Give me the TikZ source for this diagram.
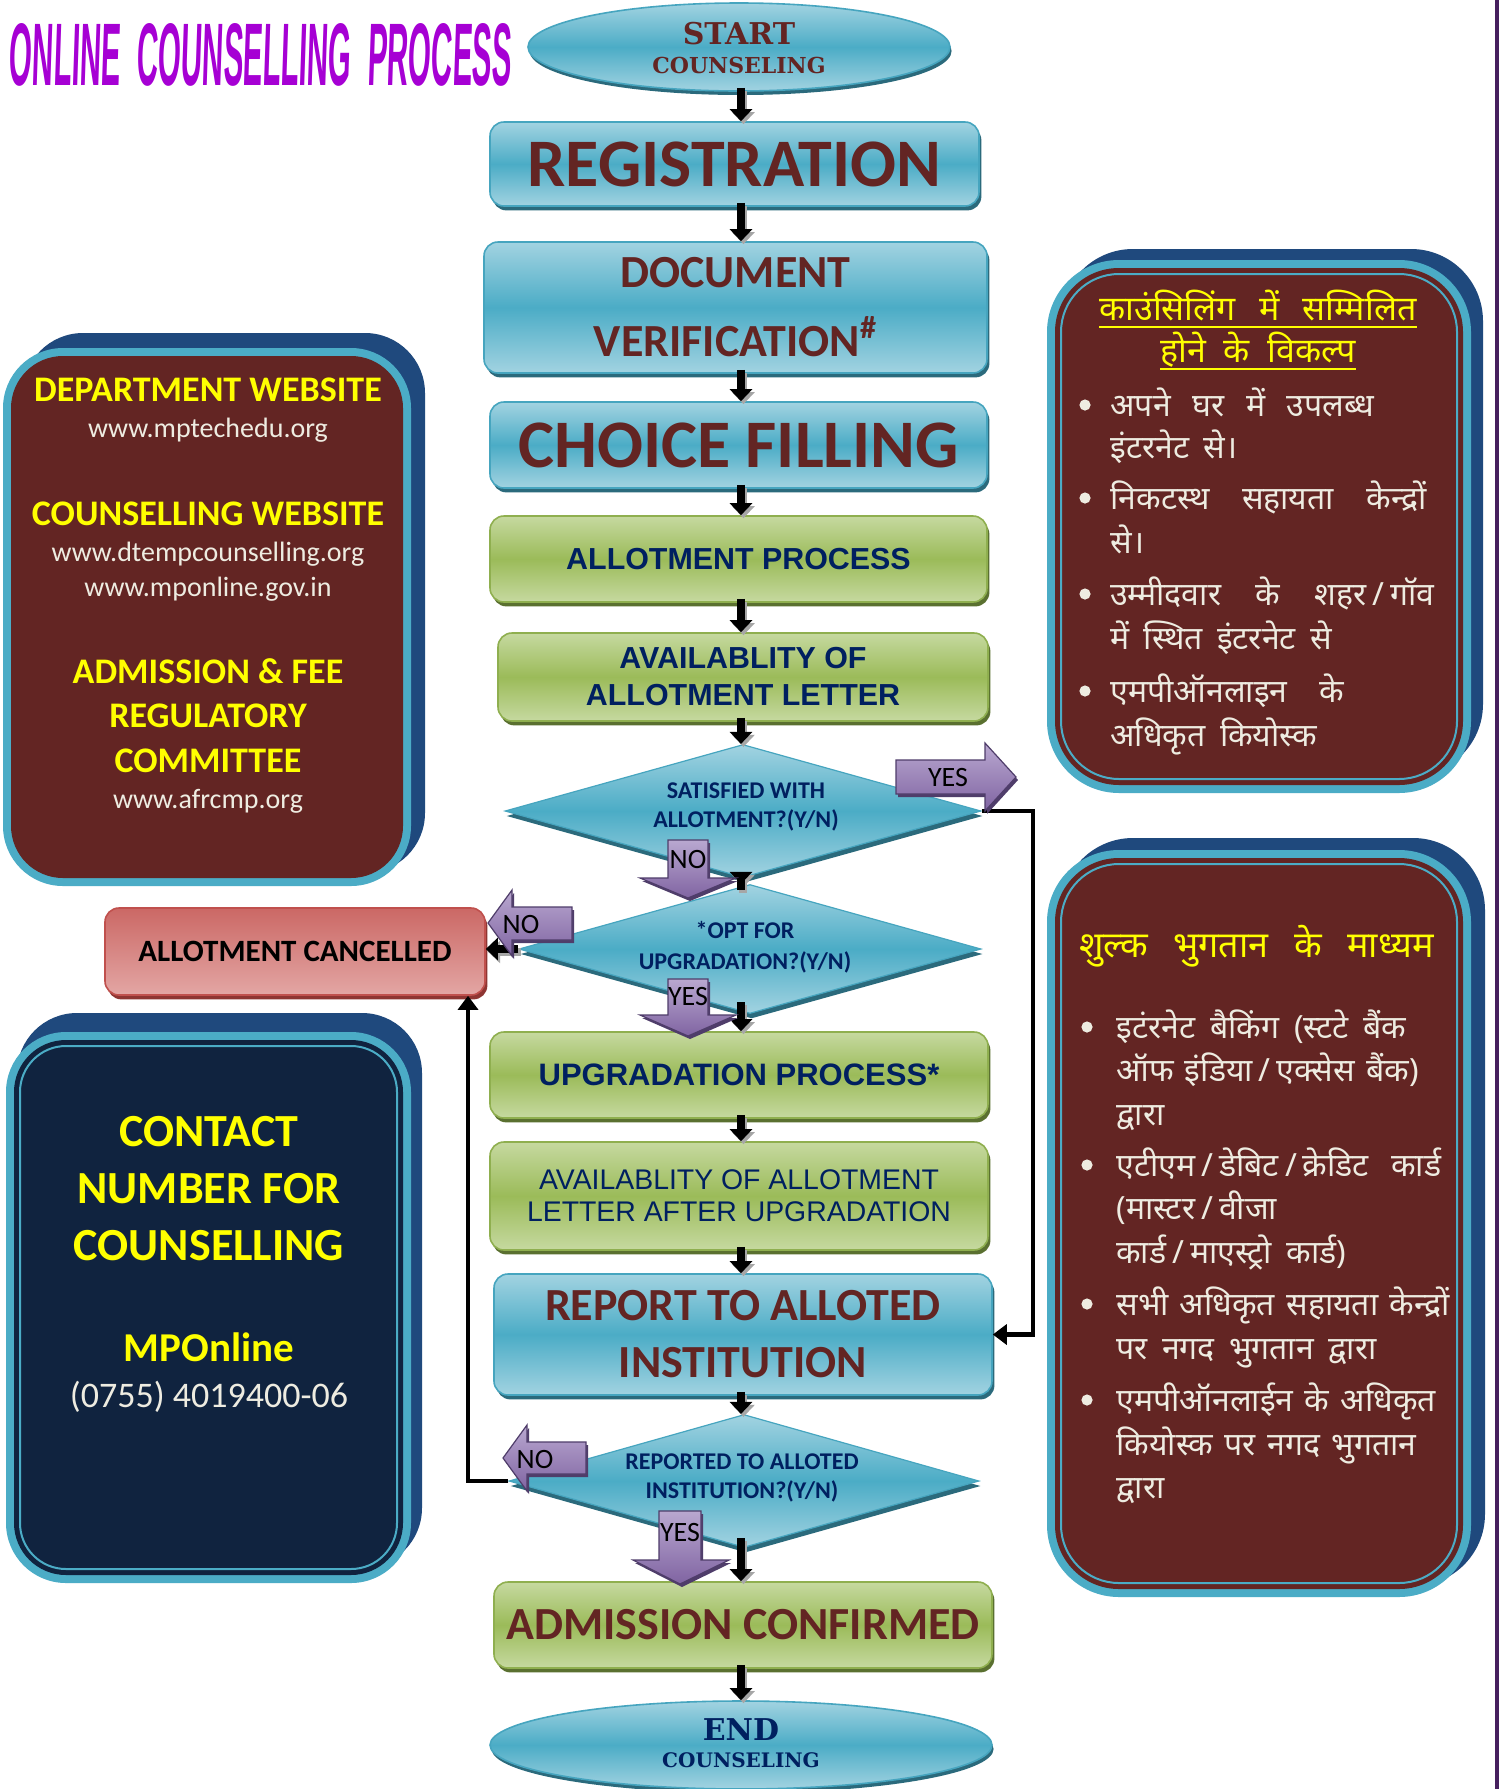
\documentclass[tikz,border=0pt]{standalone}
\usepackage{fontspec}
\setmainfont{Carlito}
\newfontfamily\arialf{Liberation Sans}
\newfontfamily\titlef[FakeSlant=0.1]{Liberation Sans}
\newfontfamily\serifbf{DejaVu Serif}
\newfontfamily\hindi[Script=Devanagari]{Noto Sans}
\usetikzlibrary{shapes.geometric,arrows.meta,shadows}
\definecolor{cMaroonT}{HTML}{632523}
\definecolor{cNavyT}{HTML}{002060}
\definecolor{cBlueL}{HTML}{A2D3E1}
\definecolor{cBlueM}{HTML}{4BACC6}
\definecolor{cBlueB}{HTML}{46A5BF}
\definecolor{cBlueS}{HTML}{2B6A7C}
\definecolor{cGreenL}{HTML}{C6D9A0}
\definecolor{cGreenM}{HTML}{9BBB59}
\definecolor{cGreenB}{HTML}{8FAF4F}
\definecolor{cGreenS}{HTML}{5A7030}
\definecolor{cRedT}{HTML}{CB6865}
\definecolor{cRedBt}{HTML}{E3A6A4}
\definecolor{cRedB}{HTML}{C0504D}
\definecolor{cRedS}{HTML}{8E3532}
\definecolor{cPurL}{HTML}{B9A8D0}
\definecolor{cPurM}{HTML}{8064A2}
\definecolor{cPurD}{HTML}{4F3D6A}
\definecolor{cPanelM}{HTML}{632523}
\definecolor{cPanelN}{HTML}{10233F}
\definecolor{cBack}{HTML}{1F497D}
\definecolor{cBand}{HTML}{4BACC6}
\definecolor{cYel}{HTML}{FFFF00}
\definecolor{cLight}{HTML}{EEECE1}
\definecolor{cMag}{HTML}{A600D4}
\definecolor{cEdge}{HTML}{46205E}
\newcommand\jl[2]{\makebox[#1][s]{#2}}
\newcommand\hsl{\hspace{3pt}/\hspace{3pt}}
\newcommand\hinfont{\hindi\fontsize{16pt}{16pt}\selectfont\spaceskip=0.45em plus 2em minus 0.1em\relax}
\tikzset{
  boxbase/.style={rectangle, rounded corners=7pt, line width=0.8pt, inner sep=0pt, align=center},
  bluebox/.style={boxbase, draw=cBlueB, top color=cBlueL, bottom color=cBlueL, middle color=cBlueM,
    drop shadow={shadow xshift=1.2pt, shadow yshift=-2.2pt, fill=cBlueS, opacity=1}},
  greenbox/.style={boxbase, draw=cGreenB, top color=cGreenL, bottom color=cGreenL, middle color=cGreenM,
    drop shadow={shadow xshift=1.2pt, shadow yshift=-2.2pt, fill=cGreenS, opacity=1}},
  redbox/.style={boxbase, draw=cRedB, top color=cRedT, bottom color=cRedBt,
    drop shadow={shadow xshift=1.2pt, shadow yshift=-2.2pt, fill=cRedS, opacity=1}},
  decision/.style={diamond, inner sep=0pt, draw=cBlueB, line width=0.6pt, top color=cBlueL, bottom color=cBlueL, middle color=cBlueM,
    drop shadow={shadow xshift=0.8pt, shadow yshift=-2.5pt, fill=cBlueS, opacity=1}},
  terminal/.style={ellipse, inner sep=0pt, draw=cBlueB, line width=0.8pt, top color=cBlueL, bottom color=cBlueL, middle color=cBlueM,
    drop shadow={shadow xshift=0.8pt, shadow yshift=-2pt, fill=cBlueS, opacity=1}},
  flow/.style={line width=4pt, draw=black, -{Triangle[width=11pt,length=6pt]}},
  flowsh/.style={line width=4pt, draw=gray!70, -{Triangle[width=11pt,length=6pt]}, transform canvas={shift={(1.2pt,-1.5pt)}}},
  conn/.style={line width=2.2pt, draw=black, -{Triangle[width=10pt,length=7pt]}},
  parrow/.style={draw=cPurD, line width=0.6pt, top color=cPurL, bottom color=cPurM,
    drop shadow={shadow xshift=1pt, shadow yshift=-1.5pt, fill=cPurD, opacity=1}},
  plabel/.style={inner sep=0pt, text=black, font=\fontsize{14pt}{14pt}\selectfont},
  dlabel/.style={inner sep=0pt, align=center, text=cNavyT, font=\bfseries\fontsize{12pt}{14.5pt}\selectfont},
  phead/.style={inner sep=0pt, anchor=base, text=cYel, font=\bfseries\fontsize{18pt}{18pt}\selectfont},
  purl/.style={inner sep=0pt, anchor=base, text=cLight, font=\fontsize{14pt}{14pt}\selectfont},
  chead/.style={inner sep=0pt, anchor=base, text=cYel, font=\bfseries\fontsize{23pt}{23pt}\selectfont},
  hin/.style={inner sep=0pt, anchor=base west, text=cLight, font=\hinfont},
  hintitle/.style={inner sep=0pt, anchor=base, text=cYel, font=\hindi\fontsize{17pt}{17pt}\selectfont},
}
\begin{document}
\begin{tikzpicture}[x=0.5pt,y=-0.5pt]
\useasboundingbox (0,0) rectangle (1500,1789);
\fill[white] (0,0) rectangle (1500,1789);

% ---------- left panel 1 (websites) ----------
\fill[cBack, rounded corners=30pt] (23,333) rectangle (425,873);
\fill[cBand, rounded corners=30pt] (3,348) rectangle (411,886);
\fill[cPanelM, rounded corners=26pt] (11,356) rectangle (403,878);
\node[phead] (dw) at (208,401) {DEPARTMENT WEBSITE};
\node[purl] (dwu) at (208,437) {www.mptechedu.org};
\node[phead] (cw) at (208,525) {COUNSELLING WEBSITE};
\node[purl] (cwu1) at (208,561) {www.dtempcounselling.org};
\node[purl] (cwu2) at (208,596) {www.mponline.gov.in};
\node[phead] (af1) at (208,683) {ADMISSION \& FEE};
\node[phead] (af2) at (208,727) {REGULATORY};
\node[phead] (af3) at (208,772) {COMMITTEE};
\node[purl] (afu) at (208,808) {www.afrcmp.org};

% ---------- left panel 2 (contact) ----------
\fill[cBack, rounded corners=30pt] (17,1013) rectangle (422,1568);
\fill[cBand, rounded corners=30pt] (6,1032) rectangle (411,1583);
\fill[cPanelN, rounded corners=26pt] (14,1040) rectangle (403,1575);
\draw[cBand, line width=1pt, rounded corners=23pt] (20,1046) rectangle (397,1569);
\node[chead] (ct1) at (209,1146) {CONTACT};
\node[chead] (ct2) at (209,1203) {NUMBER FOR};
\node[chead] (ct3) at (209,1260) {COUNSELLING};
\node[inner sep=0pt, anchor=base, text=cYel, font=\bfseries\fontsize{20.5pt}{20.5pt}\selectfont] (mpo) at (209,1361) {MPOnline};
\node[inner sep=0pt, anchor=base, text=cLight, font=\fontsize{18pt}{18pt}\selectfont] (ph) at (209,1407) {(0755) 4019400-06};

% ---------- right panel 1 ----------
\fill[cBack, rounded corners=36pt] (1061,249) rectangle (1483,776);
\fill[cBand, rounded corners=36pt] (1047,260) rectangle (1471,793);
\fill[cPanelM, rounded corners=32pt] (1055,268) rectangle (1463,785);
\draw[cBand, line width=1pt, rounded corners=29pt] (1061,274) rectangle (1457,779);
\node[hintitle] (r1t1) at (1258,320) {\jl{158.5pt}{काउंसिलिंग में सम्मिलित}};
\node[hintitle] (r1t2) at (1258,362) {\jl{97.5pt}{होने के विकल्प}};
\draw[cYel, line width=0.9pt] ([yshift=-3.5pt]r1t1.base west) -- ([yshift=-3.5pt]r1t1.base east);
\draw[cYel, line width=0.9pt] ([yshift=-3.5pt]r1t2.base west) -- ([yshift=-3.5pt]r1t2.base east);
\foreach \yy in {405,498,594,691} \fill[cLight] (1085,\yy) circle (2.8pt);
\node[hin] (r1a) at (1110,416) {\jl{131.8pt}{अपने घर में उपलब्ध}};
\node[hin] (r1b) at (1110,458) {इंटरनेट से।};
\node[hin] (r1c) at (1110,509) {\jl{158pt}{निकटस्थ सहायता केन्द्रों}};
\node[hin] (r1d) at (1110,553) {से।};
\node[hin] (r1e) at (1110,605) {\jl{162pt}{उम्मीदवार के शहर\hsl गॉव}};
\node[hin] (r1f) at (1110,649) {में स्थित इंटरनेट से};
\node[hin] (r1g) at (1110,702) {\jl{117pt}{एमपीऑनलाइन के}};
\node[hin] (r1h) at (1110,746) {अधिकृत कियोस्क};

% ---------- right panel 2 ----------
\fill[cBack, rounded corners=36pt] (1061,838) rectangle (1485,1586);
\fill[cBand, rounded corners=36pt] (1047,850) rectangle (1471,1597);
\fill[cPanelM, rounded corners=32pt] (1055,858) rectangle (1463,1589);
\draw[cBand, line width=1pt, rounded corners=29pt] (1061,864) rectangle (1457,1583);
\node[inner sep=0pt, anchor=base west, text=cYel, font=\hindi\bfseries\fontsize{18pt}{18pt}\selectfont] (r2t) at (1079,957) {\jl{177.4pt}{शुल्क भुगतान के माध्यम}};
\foreach \yy in {1027,1165,1304,1400} \fill[cLight] (1087,\yy) circle (2.8pt);
\node[hin] (r2a) at (1116,1038) {\jl{145pt}{इटंरनेट बैकिंग (स्टटे बैंक}};
\node[hin] (r2b) at (1116,1081) {\jl{151pt}{ऑफ इंडिया\hsl एक्सेस बैंक)}};
\node[hin] (r2c) at (1116,1125) {द्वारा};
\node[hin] (r2d) at (1116,1176) {\jl{162.5pt}{एटीएम\hsl डेबिट\hsl क्रेडिट कार्ड}};
\node[hin] (r2e) at (1116,1219) {(मास्टर\hsl वीजा};
\node[hin] (r2f) at (1116,1263) {कार्ड\hsl माएस्ट्रो कार्ड)};
\node[hin] (r2g) at (1116,1315) {\jl{160pt}{सभी अधिकृत सहायता केन्द्रों}};
\node[hin] (r2h) at (1116,1359) {पर नगद भुगतान द्वारा};
\node[hin] (r2i) at (1116,1411) {\jl{155pt}{एमपीऑनलाईन के अधिकृत}};
\node[hin] (r2j) at (1116,1455) {\jl{150pt}{कियोस्क पर नगद भुगतान}};
\node[hin] (r2k) at (1116,1498) {द्वारा};

% ---------- title ----------
\node[inner sep=0pt, text=cMag] (title) at (260,55) {\resizebox{251pt}{31pt}{\titlef\bfseries ONLINE\ \ COUNSELLING\ \ PROCESS}};

% ---------- flow nodes ----------
\node[terminal, minimum width=211pt, minimum height=44pt] (start) at (739,47) {};
\node[inner sep=0pt, text=cMaroonT, font=\serifbf\bfseries\fontsize{15pt}{15pt}\selectfont] (startA) at (739,34) {START};
\node[inner sep=0pt, text=cMaroonT, font=\serifbf\bfseries\fontsize{11pt}{11pt}\selectfont] (startB) at (739,65) {COUNSELING};

\node[bluebox, minimum width=244.5pt, minimum height=42pt, text=cMaroonT, font=\bfseries\fontsize{34pt}{34pt}\selectfont] (reg) at (734.5,164) {REGISTRATION};
\node[bluebox, minimum width=251.5pt, minimum height=65.5pt, text=cMaroonT, font=\bfseries\fontsize{23pt}{34.5pt}\selectfont] (doc) at (735.5,307.5) {DOCUMENT\\VERIFICATION\textsuperscript{\#}};
\node[bluebox, minimum width=248.5pt, minimum height=43pt, text=cMaroonT, font=\bfseries\fontsize{34pt}{34pt}\selectfont] (choice) at (738.5,445) {CHOICE FILLING};
\node[greenbox, minimum width=248.5pt, minimum height=43pt, text=cNavyT, font=\arialf\bfseries\fontsize{15.2pt}{18pt}\selectfont] (allot) at (738.5,559) {ALLOTMENT PROCESS};
\node[greenbox, minimum width=245pt, minimum height=44pt, text=cNavyT, font=\arialf\bfseries\fontsize{15.2pt}{18.5pt}\selectfont] (avail) at (743,677) {AVAILABLITY OF\\ALLOTMENT LETTER};

\node[decision, minimum width=238pt, minimum height=66.5pt] (d1) at (743,811) {};
\node[dlabel] (d1t) at (746,807) {SATISFIED WITH\\ALLOTMENT?(Y/N)};
\node[decision, minimum width=231pt, minimum height=64.5pt] (d2) at (750,949) {};
\node[dlabel, font=\bfseries\fontsize{12pt}{15.5pt}\selectfont] (d2t) at (745,947) {*OPT FOR\\UPGRADATION?(Y/N)};

\node[redbox, minimum width=190pt, minimum height=43.5pt, text=black, font=\bfseries\fontsize{15.5pt}{15.5pt}\selectfont] (cancel) at (295,951.5) {ALLOTMENT CANCELLED};

\node[greenbox, minimum width=249pt, minimum height=43pt, text=cNavyT, font=\arialf\bfseries\fontsize{15.5pt}{18pt}\selectfont] (upg) at (739,1075) {UPGRADATION PROCESS*};
\node[greenbox, minimum width=249pt, minimum height=54pt, text=cNavyT, font=\arialf\fontsize{14.2pt}{16pt}\selectfont] (avail2) at (739,1196) {AVAILABLITY OF ALLOTMENT\\LETTER AFTER UPGRADATION};
\node[bluebox, minimum width=249pt, minimum height=60.5pt, text=cMaroonT, font=\bfseries\fontsize{23pt}{28.5pt}\selectfont] (report) at (743,1334.5) {REPORT TO ALLOTED\\INSTITUTION};

\node[decision, minimum width=235pt, minimum height=66.5pt] (d3) at (744,1481) {};
\node[dlabel] (d3t) at (742,1478) {REPORTED TO ALLOTED\\INSTITUTION?(Y/N)};

\node[greenbox, minimum width=249pt, minimum height=43pt, text=cMaroonT, font=\bfseries\fontsize{23pt}{23pt}\selectfont] (admit) at (743,1625) {ADMISSION CONFIRMED};
\node[terminal, minimum width=251pt, minimum height=44pt] (end) at (741,1745) {};
\node[inner sep=0pt, text=cNavyT, font=\serifbf\bfseries\fontsize{15pt}{15pt}\selectfont] (endA) at (741,1730) {END};
\node[inner sep=0pt, text=cNavyT, font=\serifbf\bfseries\fontsize{10pt}{10pt}\selectfont] (endB) at (741,1760) {COUNSELING};

% ---------- spine arrows ----------
\coordinate (sp) at (741,0);
\foreach \a/\b/\s in {start/reg/2pt, reg/doc/2pt, doc/choice/2pt, choice/allot/2pt, allot/avail/2pt, avail/d1/2pt,
  d1/d2/6pt, d2/upg/6pt, upg/avail2/2pt, avail2/report/2pt, report/d3/2pt, d3/admit/5pt, admit/end/2pt}{
  \draw[flowsh, shorten <=-\s] (sp |- \a.south) -- (sp |- \b.north);
  \draw[flow, shorten <=-\s] (sp |- \a.south) -- (sp |- \b.north);
}
\draw[flowsh] (d2.west) -- (d2.west -| cancel.east);
\draw[flow] (d2.west) -- (d2.west -| cancel.east);

% ---------- long connectors ----------
\coordinate (rc) at (1033,811);
\draw[conn] (d1.east) -- (rc) |- (report.east);
\coordinate (lc) at (468,1481);
\draw[conn] (d3.west) -- (lc) -- (lc |- cancel.south);

% ---------- purple block arrows ----------
\path[parrow] (896,760) -- (985,760) -- (985,743) -- (1016,777) -- (985,811) -- (985,794) -- (896,794) -- cycle;
\node[plabel] (yes1) at (948,777) {YES};
\path[parrow] (668,840) -- (708,840) -- (708,878) -- (736,878) -- (688,898) -- (640,878) -- (668,878) -- cycle;
\node[plabel] (no1) at (688,859) {NO};
\path[parrow] (572,907) -- (572,940) -- (512,940) -- (512,956) -- (488,923) -- (512,890) -- (512,907) -- cycle;
\node[plabel] (no2) at (521,924) {NO};
\path[parrow] (668,979) -- (708,979) -- (708,1015) -- (736,1015) -- (688,1036) -- (640,1015) -- (668,1015) -- cycle;
\node[plabel] (yes2) at (688,996) {YES};
\path[parrow] (586,1442) -- (586,1474) -- (527,1474) -- (527,1491) -- (503,1458) -- (527,1425) -- (527,1442) -- cycle;
\node[plabel] (no3) at (535,1459) {NO};
\path[parrow] (659,1511) -- (701,1511) -- (701,1560) -- (729,1560) -- (680,1584) -- (633,1560) -- (659,1560) -- cycle;
\node[plabel] (yes3) at (680,1532) {YES};

% ---------- right edge line ----------
\draw[cEdge, line width=2pt] (1497,0) -- (1497,1789);
\end{tikzpicture}
\end{document}
